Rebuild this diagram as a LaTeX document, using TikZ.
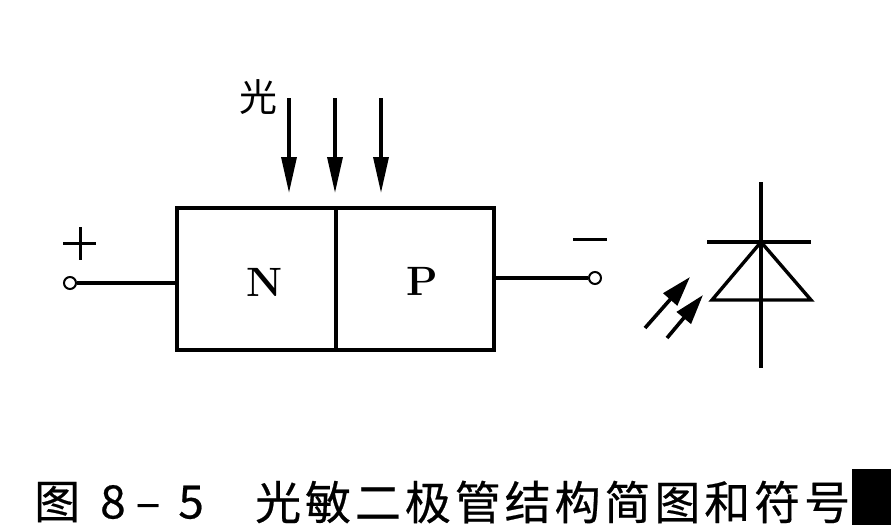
\documentclass[tikz,border=0pt]{standalone}
\usepackage{fontspec}
\newfontfamily\cjk{Noto Sans CJK SC}
\newfontfamily\cjkcap[LetterSpace=8.5,FakeBold=0.5]{Noto Sans CJK SC}
\usetikzlibrary{positioning,arrows.meta}
\tikzset{
		layerbox/.style = {shape=rectangle, draw, line width=3.8pt, outer sep=0pt,
				minimum height=142pt},
		layername/.style = {inner sep=0pt, font=\bfseries\fontsize{41}{41}\selectfont},
		terminal/.style = {shape=circle, draw, line width=2pt, inner sep=0pt, minimum size=12pt, fill=white},
		lead/.style     = {line width=3.2pt},
		ray/.style      = {line width=3.4pt, -{Triangle[length=36pt,width=15pt]}},
		smallray/.style = {line width=3.6pt, -{Triangle[length=30pt,width=18pt]}},
		symline/.style  = {line width=3.4pt},
		sign/.style     = {line width=3pt},
		caption/.style  = {inner sep=0pt, anchor=west, font=\cjkcap\fontsize{46}{46}\selectfont}
	}
\begin{document}
\begin{tikzpicture}[x=1pt, y=-1pt]
		\useasboundingbox (0,0) rectangle (891,525);
		% junction
		\node [layerbox, minimum width=159pt] (boxN) at (256.5,279) {};
		\node [layerbox, minimum width=158pt, right=0pt of boxN] (boxP) {};
		\node [layername] (nameN) at (265,282) {N};
		\node [layername] (nameP) at (422,281) {P};
		\node [terminal] (termplus) at (70,283) {};
		\node [terminal] (termminus) at (595,278) {};
		\draw [lead] (termplus) -- (boxN.west |- termplus);
		\draw [lead] (boxP.east |- termminus) -- (termminus);
		% signs
		\coordinate (plusL) at (63,243);
		\coordinate (plusR) at (96,243);
		\coordinate (plusT) at (80,227);
		\coordinate (plusB) at (80,260);
		\draw [sign] (plusL) -- (plusR);
		\draw [sign] (plusT) -- (plusB);
		\coordinate (minusL) at (573,239);
		\coordinate (minusR) at (607,239);
		\draw [sign] (minusL) -- (minusR);
		% light
		\node [inner sep=0pt, font=\cjk\fontsize{38}{38}\selectfont] (light) at (258,97) {光};
		\foreach \i/\x in {a/289, b/335, c/381} {
				\coordinate (ray\i s) at (\x,98);
				\coordinate (ray\i e) at (\x,193);
				\draw [ray] (ray\i s) -- (ray\i e);
			}
		% symbol
		\coordinate (symT) at (761,182);
		\coordinate (symB) at (761,368);
		\coordinate (barL) at (707,242);
		\coordinate (barR) at (811,242);
		\coordinate (apex) at (761,242);
		\coordinate (baseL) at (712,300);
		\coordinate (baseR) at (811,300);
		\draw [symline] (symT) -- (symB);
		\draw [symline] (barL) -- (barR);
		\draw [symline, line join=miter] (apex) -- (baseL) -- (baseR) -- cycle;
		\coordinate (rayds) at (645,328);
		\coordinate (rayde) at (690,277);
		\coordinate (rayes) at (667,338);
		\coordinate (rayee) at (703,295);
		\draw [smallray] (rayds) -- (rayde);
		\draw [smallray] (rayes) -- (rayee);
		% caption
		\node [caption] (capnum) at (34,502) {图\hspace{20pt}8\hspace{10pt}–\hspace{18pt}5};
		\node [caption] (captext) at (255,502) {光敏二极管结构简图和符号};
		\node [fill=black, inner sep=0pt, minimum width=39pt, minimum height=56pt, anchor=north west] (corner) at (852,469) {};
	\end{tikzpicture}
\end{document}
